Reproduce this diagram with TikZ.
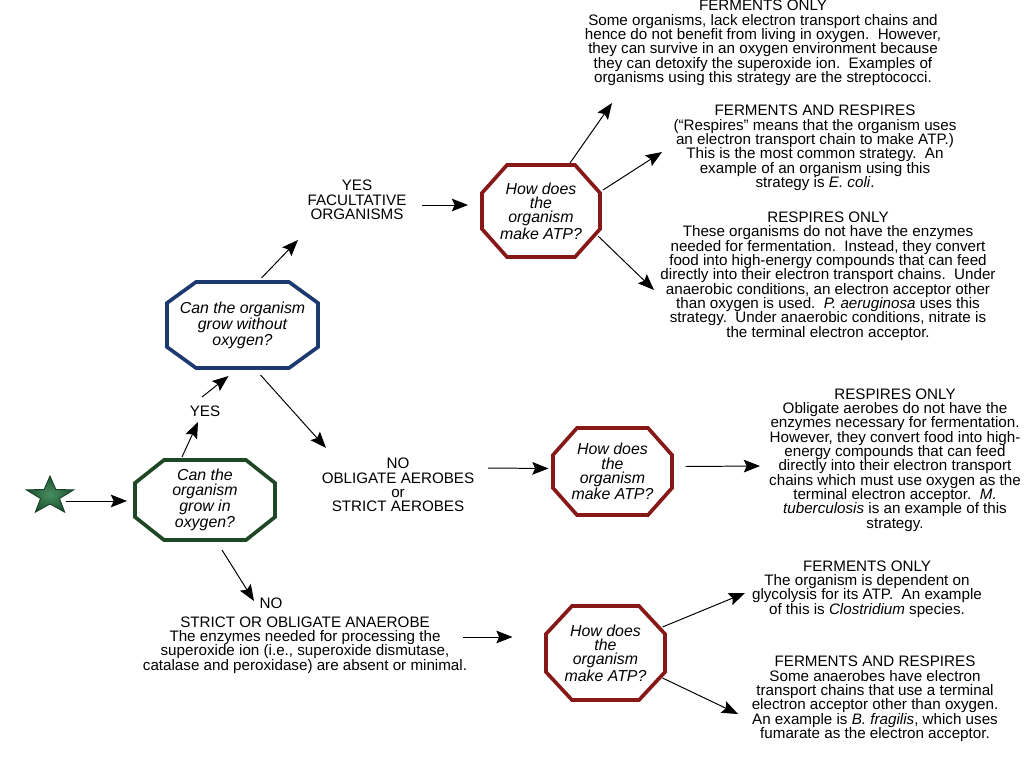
\documentclass[tikz,border=0pt]{standalone}
\usepackage{fontspec}
\setmainfont{Liberation Sans}
\usetikzlibrary{arrows.meta,fit}
\definecolor{octgreen}{RGB}{30,72,36}
\definecolor{octblue}{RGB}{28,58,112}
\definecolor{octred}{RGB}{135,24,24}
\definecolor{starin}{RGB}{72,140,96}
\definecolor{starout}{RGB}{28,82,48}
\definecolor{staredge}{RGB}{22,62,38}
\newcommand{\octbox}[8]{%
  \draw[octline,#2] (#3+#7,#4) -- (#5-#7,#4) -- (#5,#4+#8) -- (#5,#6-#8)
    -- (#5-#7,#6) -- (#3+#7,#6) -- (#3,#6-#8) -- (#3,#4+#8) -- cycle;
  \node[fit={(#3,#4) (#5,#6)}, inner sep=0pt] (#1) {};
}
\begin{document}
\begin{tikzpicture}[x=0.025cm,y=-0.025cm,
  octline/.style={line width=2.6pt,line join=miter},
  body/.style={font=\fontsize{10.8pt}{10.2pt}\selectfont,align=center,inner sep=0pt},
  octtext/.style={font=\fontsize{11.3pt}{10.2pt}\selectfont\itshape,align=center,inner sep=0pt},
  arr/.style={line width=0.7pt,-{Stealth[length=11.5pt,width=9pt,inset=2pt]}}]
\useasboundingbox[fill=white] (0,0) rectangle (1024,768);

% star
\shade[inner color=starin,outer color=starout,draw=staredge,line width=0.6pt]
  (50,476) -- (44.1,489.5) -- (26.2,489.8) -- (40.5,498.5) -- (35.3,512.2)
  -- (50,504) -- (64.7,512.2) -- (59.5,498.5) -- (73.8,489.8) -- (55.9,489.5) -- cycle;
\node[inner sep=0pt,minimum size=1pt] (star) at (50,496) {};

% octagons
\octbox{o1}{octgreen}{135}{460}{275}{540}{29}{23}
\octbox{o2}{octblue}{167}{282}{318}{368}{29}{21}
\octbox{o3}{octred}{482}{165}{600}{257}{25}{28}
\octbox{o4}{octred}{553}{428}{672}{515}{24}{27}
\octbox{o5}{octred}{546}{606}{665}{700}{26}{28}

\node[octtext] (o1t) at (o1.center) {Can the\\organism\\grow in\\oxygen?};
\node[octtext] (o2t) at (o2.center) {Can the organism\\grow without\\oxygen?};
\node[octtext] (o3t) at (o3.center) {How does\\the\\organism\\make ATP?};
\node[octtext] (o4t) at (o4.center) {How does\\the\\organism\\make ATP?};
\node[octtext] (o5t) at (o5.center) {How does\\the\\organism\\make ATP?};

% labels
\node[body] (yes1) at (205,411) {YES};
\node[body] (yesfac) at (357,200) {YES\\FACULTATIVE\\ORGANISMS};
\node[body] (noae) at (398,485) {NO\\OBLIGATE AEROBES\\or\\STRICT AEROBES};
\node[body] (no2) at (271,603) {NO};
\node[body] (strict) at (305,645) {STRICT OR OBLIGATE ANAEROBE\\
  The enzymes needed for processing the\\
  superoxide ion (i.e., superoxide dismutase,\\
  catalase and peroxidase) are absent or minimal.};

\node[body] (fo1) at (763,43) {FERMENTS ONLY\\
  Some organisms, lack electron transport chains and\\
  hence do not benefit from living in oxygen.\ \ However,\\
  they can survive in an oxygen environment because\\
  they can detoxify the superoxide ion.\ \ Examples of\\
  organisms using this strategy are the streptococci.};
\node[body] (far1) at (815,148) {FERMENTS AND RESPIRES\\
  (``Respires'' means that the organism uses\\
  an electron transport chain to make ATP.)\\
  This is the most common strategy.\ \ An\\
  example of an organism using this\\
  strategy is \textit{E. coli}.};
\node[body] (ro1) at (828,276) {RESPIRES ONLY\\
  These organisms do not have the enzymes\\
  needed for fermentation.\ \ Instead, they convert\\
  food into high-energy compounds that can feed\\
  directly into their electron transport chains.\ \ Under\\
  anaerobic conditions, an electron acceptor other\\
  than oxygen is used.\ \ \textit{P. aeruginosa} uses this\\
  strategy.\ \ Under anaerobic conditions, nitrate is\\
  the terminal electron acceptor.};
\node[body] (ro2) at (895,460) {RESPIRES ONLY\\
  Obligate aerobes do not have the\\
  enzymes necessary for fermentation.\\
  However, they convert food into high-\\
  energy compounds that can feed\\
  directly into their electron transport\\
  chains which must use oxygen as the\\
  terminal electron acceptor.\ \ \textit{M.}\\
  \textit{tuberculosis} is an example of this\\
  strategy.};
\node[body] (fo2) at (867,589) {FERMENTS ONLY\\
  The organism is dependent on\\
  glycolysis for its ATP.\ \ An example\\
  of this is \textit{Clostridium} species.};
\node[body] (far2) at (875,699) {FERMENTS AND RESPIRES\\
  Some anaerobes have electron\\
  transport chains that use a terminal\\
  electron acceptor other than oxygen.\\
  An example is \textit{B. fragilis}, which uses\\
  fumarate as the electron acceptor.};

% connectors
\draw[arr] ([shift={(16,5)}]star.center) -- ([shift={(-78,1)}]o1.center);
\draw[arr] ([shift={(-23,-43)}]o1.center) -- ([shift={(-7,11)}]yes1.center);
\draw[arr] ([shift={(-3,-14)}]yes1.center) -- ([shift={(-14,51)}]o2.center);
\draw[arr] ([shift={(19,-47)}]o2.center) -- ([shift={(-59,40)}]yesfac.center);
\draw[arr] ([shift={(65,5)}]yesfac.center) -- ([shift={(-73,-6)}]o3.center);
\draw[arr] ([shift={(29,-48)}]o3.center) -- ([shift={(-151,60)}]fo1.center);
\draw[arr] ([shift={(62,-21)}]o3.center) -- ([shift={(-153,4)}]far1.center);
\draw[arr] ([shift={(57,25)}]o3.center) -- ([shift={(-174,14)}]ro1.center);
\draw[arr] ([shift={(18,50)}]o2.center) -- ([shift={(-72,-37)}]noae.center);
\draw[arr] ([shift={(90,-17)}]noae.center) -- ([shift={(-64,-3)}]o4.center);
\draw[arr] ([shift={(73,-5)}]o4.center) -- ([shift={(-135,6)}]ro2.center);
\draw[arr] ([shift={(17,50)}]o1.center) -- ([shift={(-17,-2)}]no2.center);
\draw[arr] ([shift={(158,-8)}]strict.center) -- ([shift={(-93,-16)}]o5.center);
\draw[arr] ([shift={(57,-26)}]o5.center) -- ([shift={(-122,4)}]fo2.center);
\draw[arr] ([shift={(57,25)}]o5.center) -- ([shift={(-137,15)}]far2.center);
\end{tikzpicture}
\end{document}
